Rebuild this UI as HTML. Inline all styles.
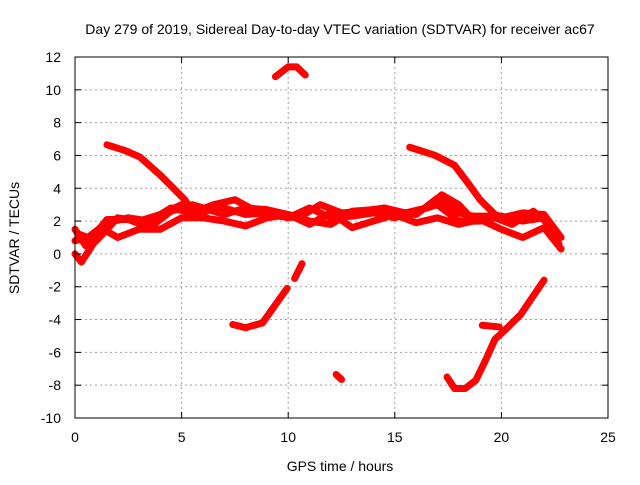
<!DOCTYPE html>
<html><head><meta charset="utf-8"><style>
body{margin:0;background:#fff;}
svg text{font-family:"Liberation Sans",sans-serif;font-size:14px;fill:#000;}
</style></head><body>
<svg id="chart" width="640" height="480">
<text x="340" y="34" text-anchor="middle">Day 279 of 2019, Sidereal Day-to-day VTEC variation (SDTVAR) for receiver ac67</text>
<text x="340" y="471" text-anchor="middle">GPS time / hours</text>
<text transform="translate(19,238) rotate(-90)" text-anchor="middle">SDTVAR / TECUs</text>
<g id="grid"></g><g id="marks"></g><g id="axes"></g>
</svg>
<script>
const xTicks=[0,5,10,15,20,25];
const yTicks=[-10,-8,-6,-4,-2,0,2,4,6,8,10,12];
const trackA=[[1.5,6.65],[2.35,6.3],[3.05,5.9],[4,4.8],[5.15,3.3],[5.6,2.4],[6.2,2.2]];
const trackB=[[0,1.5],[0.5,0.5],[1,1.3],[1.5,2.1],[2.5,2.1],[3.5,1.6],[4.5,2.6],[5.5,3.0],[7,2.4],[8,2.8],[9,2.7],[10,2.4],[11,2.0],[12,1.8],[13,2.6],[14,2.7],[15,2.6],[16,2.4],[17,3.4],[18,2.5],[19,2.2],[20,2.2],[21,2.5],[22,2.4],[22.8,1.0]];
const trackC=[[0,0.8],[0.6,1.0],[1.2,1.6],[2,1.0],[3,1.5],[4,1.5],[5,2.2],[6,2.2],[7,2.0],[8,1.7],[9,2.2],[10,2.4],[11,1.8],[12,2.5],[13,1.6],[14,2.0],[15,2.4],[16,1.9],[17,2.2],[18,1.8],[19,2.1],[20,1.5],[21,1.0],[22,1.6],[22.8,0.3]];
const trackD=[[0,0.0],[0.3,-0.5],[0.7,0.3],[1.5,1.9],[2.5,2.2],[3.5,2.0],[4.5,2.8],[5.5,2.5],[6.5,3.0],[7.5,3.3],[8.5,2.6],[9.5,2.3],[10.5,2.2],[11.5,3.0],[12.5,2.5],[13.5,2.6],[14.5,2.8],[15.5,2.5],[16.5,2.8],[17.2,3.6],[18,3.0],[18.5,2.3],[19.5,2.3],[20.5,1.8],[21.5,2.6],[22.5,1.5]];
const trackL=[[0.2,1.2],[1,0.8],[2,2.2],[3,2.0],[4,2.4],[5,3.0],[6,2.6],[7,2.8],[8,2.4],[9,2.5],[10,2.2],[11,2.8],[12,2.2],[13,2.3],[14,2.5],[15,2.2],[16,2.6],[17,3.0],[18,2.0],[19,2.0],[20,2.3],[21,2.0],[22,2.2],[22.7,0.6]];
const trackE=[[15.7,6.5],[16.9,6.0],[17.8,5.4],[18.5,4.2],[19,3.3],[19.7,2.4],[20.4,2.1]];
const trackF=[[9.4,10.8],[10,11.4],[10.4,11.4],[10.8,10.9]];
const trackG=[[7.4,-4.3],[8,-4.5],[8.8,-4.2],[9.4,-3.1],[9.95,-2.1]];
const trackH=[[10.3,-1.5],[10.65,-0.6]];
const trackI=[[12.25,-7.35],[12.5,-7.65]];
const trackJ=[[17.45,-7.5],[17.8,-8.2],[18.3,-8.2],[18.8,-7.7],[19.25,-6.5],[19.7,-5.2],[20.2,-4.6],[20.9,-3.7],[22,-1.6]];
const trackK=[[19.1,-4.35],[19.9,-4.45]];
const tracks=[trackA,trackB,trackC,trackD,trackL,trackE,trackF,trackG,trackH,trackI,trackJ,trackK];
const X0=75,X1=608,Y0=418,Y1=57,xmin=0,xmax=25,ymin=-10,ymax=12;
const sx=v=>X0+(v-xmin)/(xmax-xmin)*(X1-X0);
const sy=v=>Y0-(v-ymin)/(ymax-ymin)*(Y0-Y1);
const NS='http://www.w3.org/2000/svg';
const mk=(t,a,p)=>{const e=document.createElementNS(NS,t);for(const k in a)e.setAttribute(k,a[k]);p.appendChild(e);return e;};
const grid=document.getElementById('grid'),axes=document.getElementById('axes'),marks=document.getElementById('marks');
xTicks.forEach(t=>{
 if(t>xmin&&t<xmax){const g=mk('line',{x1:sx(t),x2:sx(t),y1:Y1,y2:Y0,stroke:'#a0a0a0','stroke-dasharray':'2,3'},grid);
 
 }
 mk('line',{x1:sx(t),x2:sx(t),y1:Y0,y2:Y0-6,stroke:'#000'},axes);
 mk('line',{x1:sx(t),x2:sx(t),y1:Y1,y2:Y1+6,stroke:'#000'},axes);
 const l=mk('text',{x:sx(t),y:Y0+24,'text-anchor':'middle'},axes);l.textContent=t;
 
 
});
yTicks.forEach(t=>{
 if(t>ymin&&t<ymax){const g=mk('line',{x1:X0,x2:X1,y1:sy(t),y2:sy(t),stroke:'#a0a0a0','stroke-dasharray':'2,3'},grid);
 
 }
 mk('line',{x1:X0,x2:X0+6,y1:sy(t),y2:sy(t),stroke:'#000'},axes);
 mk('line',{x1:X1,x2:X1-6,y1:sy(t),y2:sy(t),stroke:'#000'},axes);
 const l=mk('text',{x:X0-14,y:sy(t)+5,'text-anchor':'end'},axes);l.textContent=t;
 
 
});
const frame=mk('rect',{x:X0,y:Y1,width:X1-X0,height:Y0-Y1,fill:'none',stroke:'#000'},axes);


tracks.forEach(tr=>{
 const p=mk('polyline',{points:tr.map(d=>sx(d[0])+','+sy(d[1])).join(' '),fill:'none',stroke:'#f00','stroke-width':7,'stroke-linejoin':'round','stroke-linecap':'round'},marks);
 
 
});
</script>
</body></html>
